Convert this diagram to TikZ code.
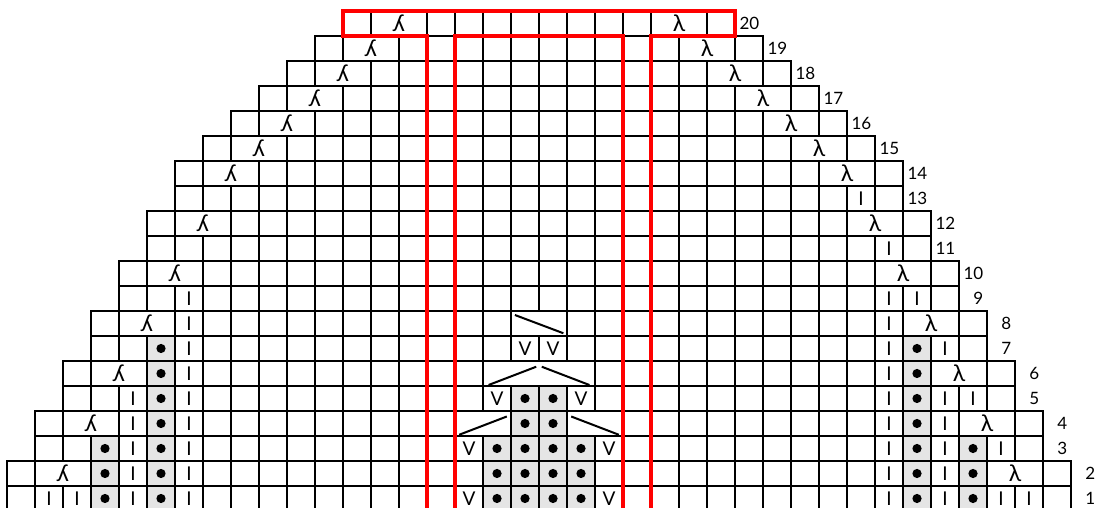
\documentclass[tikz,border=0pt]{standalone}
\usepackage{fontspec}
\setmainfont{Lato}
\usepackage{graphicx}
\usepackage{tikz}
\newcommand{\dotcells}{5/1,5/2,5/3,5/4,5/5,5/6,5/7,3/1,3/2,3/3,
  32/1,32/2,32/3,32/4,32/5,32/6,32/7,34/1,34/2,34/3,
  17/1,18/1,19/1,20/1,17/2,18/2,19/2,20/2,17/3,18/3,19/3,20/3,18/4,19/4,18/5,19/5}
\newcommand{\barcells}{1/1,2/1,4/1,6/1,4/2,6/2,4/3,6/3,4/4,6/4,4/5,6/5,6/6,6/7,6/8,6/9,
  31/1,33/1,35/1,36/1,31/2,33/2,31/3,33/3,35/3,31/4,33/4,31/5,33/5,34/5,
  31/6,31/7,33/7,31/8,31/9,32/9,31/11,30/13}
\newcommand{\slipcells}{16/1,21/1,16/3,21/3,17/5,20/5,18/7,19/7}

\begin{document}
\begin{tikzpicture}[
    x=14pt, y=12.5pt,
    gridline/.style={line width=1pt, black},
    redline/.style={line width=2.3pt, red, line join=miter},
    shade/.style={fill=black!10},
    purl/.style={circle, fill=black, inner sep=0pt, minimum size=4.6pt},
    bar/.style={inner sep=0pt, font=\fontsize{9.5}{9.5}\selectfont},
    slip/.style={inner sep=0pt, font=\fontsize{9.5}{9.5}\selectfont},
    dec/.style={draw, line width=1pt, fill=white, minimum width=28pt, minimum height=12.5pt, inner sep=0pt, font=\fontsize{11.5}{11.5}\selectfont},
    wide/.style={dec, minimum width=56pt},
    incline/.style={line width=1pt},
    rowno/.style={anchor=east, inner sep=0pt, font=\fontsize{8.5}{8.5}\selectfont},
]
\useasboundingbox (-0.25,0.12) rectangle (39.107,20.44);
\clip (-0.25,0.12) rectangle (39.107,20.44);

% grey background of the dot cells
\foreach \c/\r in \dotcells
  \fill[shade] (\c,\r-1) rectangle ++(1,1);

% chart grid and row numbers
\foreach \r/\a in {1/0,2/0,3/1,4/1,5/2,6/2,7/3,8/3,9/4,10/4,11/5,12/5,13/6,14/6,15/7,16/8,17/9,18/10,19/11,20/12}{
  \pgfmathtruncatemacro{\b}{37-\a}
  \foreach \c in {\a,...,\b}
    \draw[gridline] (\c,\r-1) rectangle ++(1,1);
  \node[rowno] (no-\r) at (38-\a+0.88,\r-0.5) {\r};
}

% decreases over two cells
\foreach \c/\r in {1/2,2/4,3/6,4/8,5/10,6/12,7/14,8/15,9/16,10/17,11/18,12/19,13/20}
  \node[dec] (ldec-\r) at (\c+1,\r-0.5) {\reflectbox{λ}};
\foreach \c/\r in {35/2,34/4,33/6,32/8,31/10,30/12,29/14,28/15,27/16,26/17,25/18,24/19,23/20}
  \node[dec] (rdec-\r) at (\c+1,\r-0.5) {λ};

% increases in the middle
\node[dec] (inc-4l) at (17,3.5) {};
\node[dec] (inc-4r) at (21,3.5) {};
\node[wide] (inc-6) at (19,5.5) {};
\node[dec] (inc-8) at (19,7.5) {};
\draw[incline] (17.85,3.78) -- (16.15,3.05);
\draw[incline] (20.15,3.78) -- (21.85,3.05);
\draw[incline] (18.9,5.77) -- (17.2,5.04);
\draw[incline] (19.1,5.77) -- (20.8,5.04);
\draw[incline] (18.14,7.84) -- (19.87,7.11);

% stitch symbols
\foreach \c/\r in \dotcells
  \node[purl] (dot-\c-\r) at (\c+0.5,\r-0.5) {};
\foreach \c/\r in \barcells
  \node[bar] (bar-\c-\r) at (\c+0.5,\r-0.5) {I};
\foreach \c/\r in \slipcells
  \node[slip] (sl-\c-\r) at (\c+0.5,\r-0.5) {V};

% red outline
\draw[redline] (15,-0.5) |- (12,19) |- (26,20) |- (23,19) -- (23,-0.5);
\draw[redline] (16,-0.5) |- (22,19) -- (22,-0.5);
\end{tikzpicture}
\end{document}
